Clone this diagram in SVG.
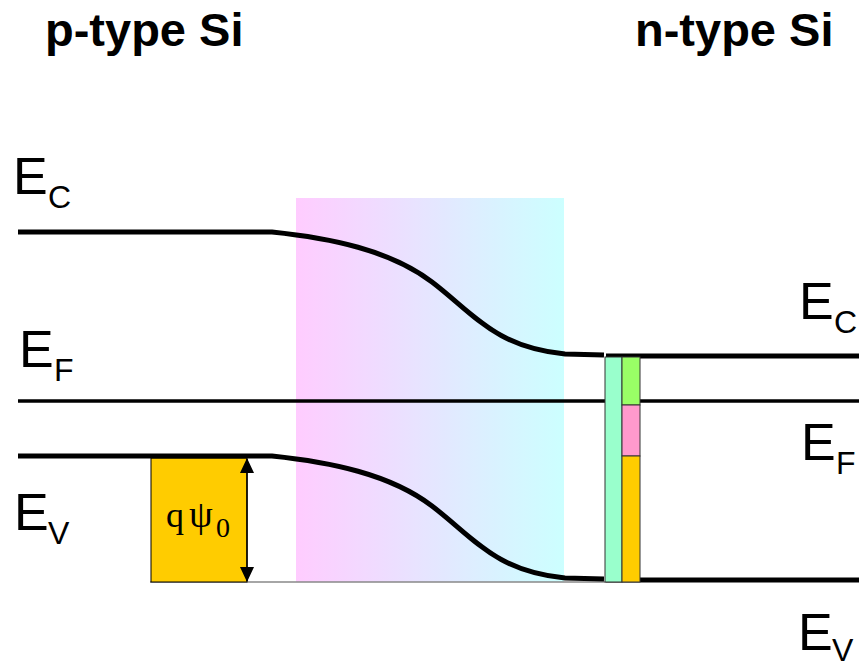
<svg xmlns="http://www.w3.org/2000/svg" width="859" height="670" viewBox="0 0 859 670">
<defs>
<linearGradient id="dep" x1="0" y1="0" x2="1" y2="0">
<stop offset="0" stop-color="#FFCCFF"/>
<stop offset="1" stop-color="#CCFFFF"/>
</linearGradient>
<marker id="ah" viewBox="0 0 15 14" refX="14" refY="7" markerWidth="15" markerHeight="14" markerUnits="userSpaceOnUse" orient="auto-start-reverse">
<path d="M0,0 L15,7 L0,14 Z" fill="#000"/>
</marker>
<style>
.band{fill:none;stroke:#000;stroke-width:5}
.fermi{fill:none;stroke:#000;stroke-width:3.5}
.lbl{font-family:"Liberation Sans",Arial,sans-serif;fill:#000}
.big{font-size:52px}
.sub{font-size:32px}
.title{font-family:"Liberation Sans",Arial,sans-serif;font-weight:bold;font-size:47px;fill:#000}
.bar{stroke:#333;stroke-width:1}
</style>
</defs>
<rect width="859" height="670" fill="#fff"/>
<g id="depletion-region">
<rect x="296" y="198" width="268" height="384" fill="url(#dep)"/>
</g>
<g id="titles">
<text class="title" x="45" y="46">p-type Si</text>
<text class="title" x="635" y="46">n-type Si</text>
</g>
<g id="potential-box">
<line x1="150" y1="582" x2="606" y2="582" stroke="#888" stroke-width="1.5"/>
<rect x="151" y="458" width="96" height="124" fill="#FFCC00" stroke="#000" stroke-width="1"/>
<text font-family="'Liberation Serif','Times New Roman',serif" fill="#000"><tspan x="166" y="527" font-size="36">q</tspan><tspan x="189" y="527" font-size="38">ψ</tspan><tspan x="216" y="537" font-size="28">0</tspan></text>
</g>
<g id="connectors">
<path class="band" d="M18,232 L272,232 C330,238 390,250 432,282 C474,314 495,347 565,354 L604,355"/>
<path class="band" d="M18,456 L272,456 C330,462 390,474 432,506 C474,538 495,571 565,578 L604,579"/>
<line class="band" x1="606" y1="356" x2="859" y2="356"/>
<line class="band" x1="606" y1="580" x2="859" y2="580"/>
<line class="fermi" x1="18" y1="401" x2="859" y2="401"/>
<line x1="247" y1="459" x2="247" y2="581" stroke="#000" stroke-width="1.5" marker-start="url(#ah)" marker-end="url(#ah)"/>
</g>
<g id="charge-bars">
<rect class="bar" x="605" y="357" width="17" height="225" fill="#99FFCC"/>
<rect class="bar" x="622" y="357" width="18" height="48" fill="#99FF66"/>
<rect class="bar" x="622" y="405" width="18" height="51" fill="#FF99CC"/>
<rect class="bar" x="622" y="456" width="18" height="126" fill="#FFCC00"/>
</g>
<g id="labels">
<text class="lbl big" x="13" y="194">E<tspan class="sub" x="48" y="208">C</tspan></text>
<text class="lbl big" x="19" y="367">E<tspan class="sub" x="54" y="381">F</tspan></text>
<text class="lbl big" x="14" y="530">E<tspan class="sub" x="48" y="544">V</tspan></text>
<text class="lbl big" x="799" y="319">E<tspan class="sub" x="834" y="333">C</tspan></text>
<text class="lbl big" x="801" y="460">E<tspan class="sub" x="836" y="474">F</tspan></text>
<text class="lbl big" x="798" y="650">E<tspan class="sub" x="832" y="661">V</tspan></text>
</g>
</svg>
